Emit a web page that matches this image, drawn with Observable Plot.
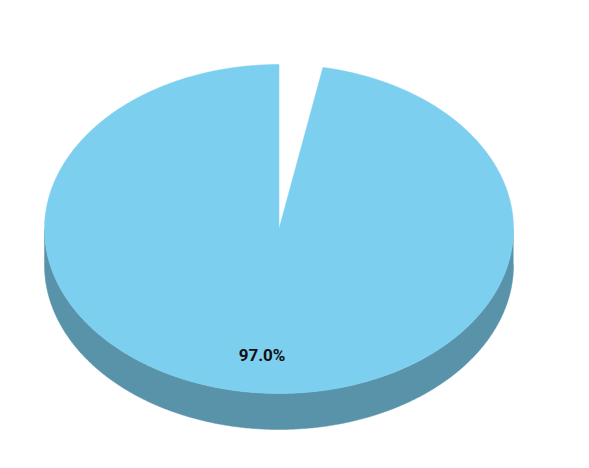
<!DOCTYPE html>
<html><head><meta charset="utf-8">
<script src="https://cdn.jsdelivr.net/npm/d3@7"></script>
<script src="https://cdn.jsdelivr.net/npm/@observablehq/plot@0.6"></script>
<style>html,body{margin:0;padding:0;background:#fff;overflow:hidden}</style>
</head><body><div id="chart"></div>
<script>
// Data
const categories = ["Other", "Main"];
const values = [3.0, 97.0];
const topColors = ["transparent", "#7dcfef"];
const sideColors = ["transparent", "#5993aa"];
const labels = ["", "97.0%"];

// Layout (3D pie)
const depth = 36 / 164.5;      // thickness in units of vertical radius
const labelRadius = 0.77;
const step = Math.PI / 360;

const arcs = d3.pie().sort(null).value(d => d)(values);

function arcPoints(a0, a1, r, dy, id) {
  const n = Math.max(2, Math.ceil((a1 - a0) / step));
  return d3.range(n + 1).map(i => {
    const a = a0 + (a1 - a0) * i / n;
    return {x: r * Math.sin(a), y: -r * Math.cos(a) + dy, id};
  });
}

const marks = [];
// sides (front half only)
arcs.forEach((arc, i) => {
  const a0 = Math.max(arc.startAngle, Math.PI / 2);
  const a1 = Math.min(arc.endAngle, 3 * Math.PI / 2);
  if (a1 <= a0) return;
  const pts = [...arcPoints(a0, a1, 1, 0, i), ...arcPoints(a0, a1, 1, depth, i).reverse()];
  marks.push(Plot.line(pts, {x: "x", y: "y", fill: sideColors[i], stroke: sideColors[i], strokeWidth: 0.5, curve: "linear"}));
});
// tops
arcs.forEach((arc, i) => {
  const pts = [{x: 0, y: 0, id: i}, ...arcPoints(arc.startAngle, arc.endAngle, 1, 0, i), {x: 0, y: 0, id: i}];
  marks.push(Plot.line(pts, {x: "x", y: "y", fill: topColors[i], stroke: topColors[i], strokeWidth: 0.5, curve: "linear"}));
});
// labels
const labelData = arcs.map((arc, i) => {
  const m = (arc.startAngle + arc.endAngle) / 2;
  return {x: labelRadius * Math.sin(m), y: -labelRadius * Math.cos(m), text: labels[i]};
}).filter(d => d.text);
marks.push(Plot.text(labelData, {x: "x", y: "y", text: "text", fontSize: 17, fontWeight: "bold", fill: "#111111", fontFamily: "Roboto"}));

const chart = Plot.plot({
  width: 589,
  height: 468,
  margin: 0,
  x: {domain: [-1, 1], range: [44, 513], axis: null},
  y: {domain: [-1, 1 + depth], range: [64, 429], axis: null},
  marks
});
document.getElementById("chart").appendChild(chart);
</script>
</body></html>
